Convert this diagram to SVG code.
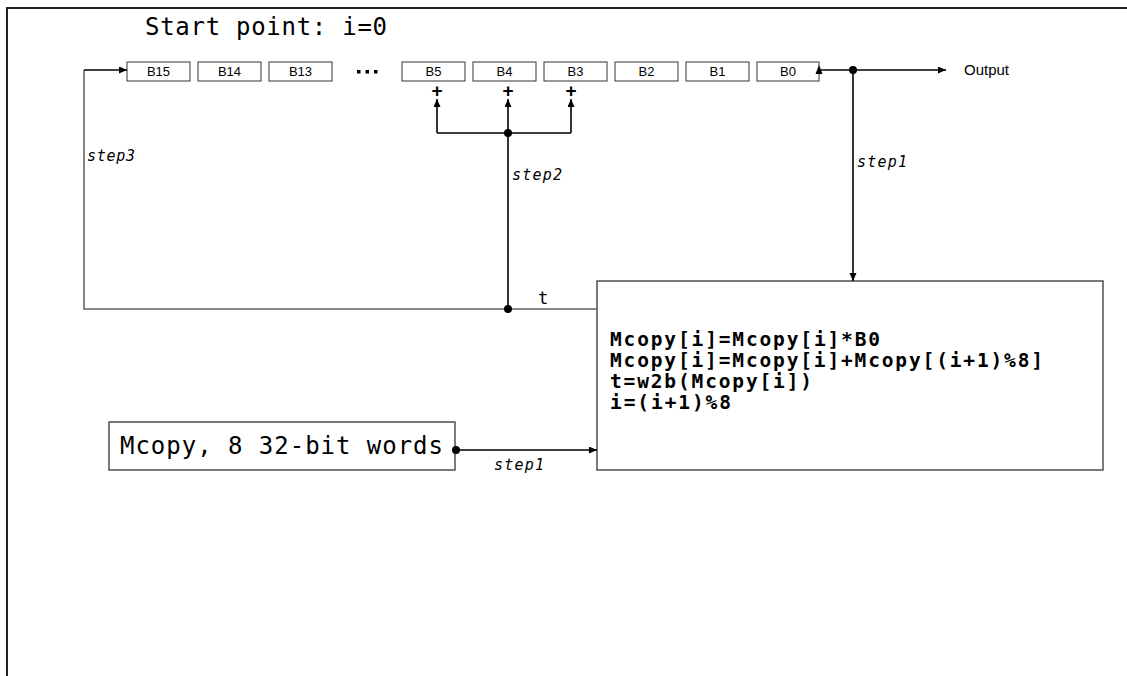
<svg xmlns="http://www.w3.org/2000/svg" width="1127" height="676" viewBox="0 0 1127 676">
<defs>
<marker id="arr" markerUnits="userSpaceOnUse" markerWidth="9" markerHeight="8" refX="8" refY="3.5" orient="auto">
<path d="M0,0 L8,3.5 L0,7 z" fill="#000"/>
</marker>
<style>
.box{fill:#fff;stroke:#333;stroke-width:1.3}
.reg{fill:#fff;stroke:#333;stroke-width:1}
.bl{font-family:"Liberation Sans",Arial,sans-serif;font-size:13px;fill:#000;text-anchor:middle}
.ln{fill:none;stroke:#000;stroke-width:1.6}
.gl{fill:none;stroke:#666;stroke-width:1.6}
.mono{font-family:"DejaVu Sans Mono","Liberation Mono",monospace;fill:#000}
.step{font-family:"DejaVu Sans Mono","Liberation Mono",monospace;font-style:italic;font-size:15px;fill:#000}
.code{font-family:"DejaVu Sans Mono","Liberation Mono",monospace;font-weight:bold;font-size:19.5px;fill:#000}
.plus{font-family:"Liberation Sans",Arial,sans-serif;font-weight:bold;font-size:19px;fill:#000;text-anchor:middle}
</style>
</defs>
<rect width="1127" height="676" fill="#fff"/>
<!-- frame -->
<path d="M7,676 L7,8 L1127,8" fill="none" stroke="#222" stroke-width="2"/>
<text id="title" class="mono" x="145" y="35" font-size="24" textLength="242" lengthAdjust="spacing">Start point: i=0</text>

<g id="register">
<g id="B15"><rect class="reg" x="127" y="62" width="63" height="19"/><text class="bl" x="158.5" y="76">B15</text></g>
<g id="B14"><rect class="reg" x="198" y="62" width="63" height="19"/><text class="bl" x="229.5" y="76">B14</text></g>
<g id="B13"><rect class="reg" x="269" y="62" width="63" height="19"/><text class="bl" x="300.5" y="76">B13</text></g>
<g id="dots"><rect x="357" y="70" width="3.5" height="3.5"/><rect x="365.5" y="70" width="3.5" height="3.5"/><rect x="374" y="70" width="3.5" height="3.5"/></g>
<g id="B5"><rect class="reg" x="402" y="62" width="63" height="19"/><text class="bl" x="433.5" y="76">B5</text></g>
<g id="B4"><rect class="reg" x="473" y="62" width="63" height="19"/><text class="bl" x="504.5" y="76">B4</text></g>
<g id="B3"><rect class="reg" x="544" y="62" width="63" height="19"/><text class="bl" x="575.5" y="76">B3</text></g>
<g id="B2"><rect class="reg" x="615" y="62" width="63" height="19"/><text class="bl" x="646.5" y="76">B2</text></g>
<g id="B1"><rect class="reg" x="686" y="62" width="63" height="19"/><text class="bl" x="717.5" y="76">B1</text></g>
<g id="B0"><rect class="reg" x="757" y="62" width="62" height="19"/><text class="bl" x="788" y="76">B0</text></g>
</g>

<g id="output"><text x="964" y="75" font-family="Liberation Sans,Arial,sans-serif" font-size="15" fill="#000">Output</text></g>

<g id="proc">
<rect class="box" x="597" y="281" width="506" height="189"/>
<text class="code" x="610" y="346" textLength="270" lengthAdjust="spacing">Mcopy[i]=Mcopy[i]*B0</text>
<text class="code" x="610" y="367" textLength="433" lengthAdjust="spacing">Mcopy[i]=Mcopy[i]+Mcopy[(i+1)%8]</text>
<text class="code" x="610" y="388" textLength="202" lengthAdjust="spacing">t=w2b(Mcopy[i])</text>
<text class="code" x="610" y="409" textLength="121" lengthAdjust="spacing">i=(i+1)%8</text>
</g>

<g id="mcopy">
<rect class="box" x="109" y="422" width="346" height="48"/>
<text class="mono" x="120" y="454" font-size="24" textLength="323" lengthAdjust="spacing">Mcopy, 8 32-bit words</text>
</g>

<g id="connectors">
<!-- feedback step3 -->
<path class="gl" d="M597,309 L84,309 L84,70"/>
<path class="ln" d="M84,70 L127,70" marker-end="url(#arr)"/>
<!-- step2 -->
<path class="ln" d="M508,309 L508,133"/>
<path class="ln" d="M437,133 L571,133"/>
<path class="ln" d="M437,133 L437,99" marker-end="url(#arr)"/>
<path class="ln" d="M508,133 L508,99" marker-end="url(#arr)"/>
<path class="ln" d="M571,133 L571,99" marker-end="url(#arr)"/>
<circle cx="508" cy="133" r="4"/>
<circle cx="508" cy="309" r="4"/>
<text class="plus" x="437" y="97">+</text>
<text class="plus" x="508" y="97">+</text>
<text class="plus" x="571" y="97">+</text>
<!-- B0 out -->
<path class="ln" d="M819,70 L853,70"/>
<path d="M819,65 L815.5,74 L822.5,74 z" fill="#000"/>
<path class="ln" d="M853,70 L946,70" marker-end="url(#arr)"/>
<circle cx="853" cy="70" r="4"/>
<path class="ln" d="M853,70 L853,281" marker-end="url(#arr)"/>
<!-- mcopy to proc -->
<circle cx="456" cy="450" r="4"/>
<path class="ln" d="M456,450 L597,450" marker-end="url(#arr)"/>
<!-- labels -->
<text class="step" x="87" y="161" textLength="48" lengthAdjust="spacing">step3</text>
<text class="step" x="512" y="180" textLength="50" lengthAdjust="spacing">step2</text>
<text class="step" x="857" y="167" textLength="50" lengthAdjust="spacing">step1</text>
<text class="step" x="494" y="470" textLength="50" lengthAdjust="spacing">step1</text>
<text class="mono" x="538" y="304" font-size="17">t</text>
</g>
</svg>
